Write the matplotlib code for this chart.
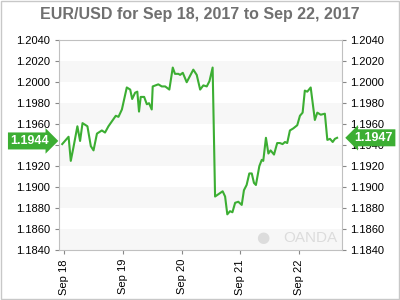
import matplotlib as mpl
mpl.use('Agg')
import matplotlib.pyplot as plt
from matplotlib.patches import Rectangle

# hours since Sep 18 00:00 and EUR/USD price
hours = [-0.8, 1.8, 2.7, 3.8, 5.4, 6.5, 7.5, 9.5, 10.9, 12.0, 13.4, 15.4, 16.7, 18.1,
         21.1, 22.2, 23.6, 25.6, 27.0, 27.8, 29.0, 29.9, 30.6, 31.3, 32.7, 33.8, 34.7,
         35.8, 36.2, 38.5, 39.9, 41.3, 43.0, 44.4, 45.3, 46.7, 47.4, 48.5, 50.1, 52.8,
         54.2, 55.6, 56.9, 58.3, 59.4, 60.7, 61.7, 64.8, 65.8, 66.7, 67.8, 68.8, 69.9,
         71.2, 72.6, 73.5, 74.6, 75.7, 76.7, 77.6, 78.4, 79.8, 80.8, 81.4, 82.5, 83.5,
         84.4, 85.8, 87.1, 88.2, 89.3, 90.3, 91.2, 92.3, 93.7, 95.3, 96.4, 97.5, 98.4,
         99.4, 100.8, 102.5, 103.5, 104.9, 106.6, 107.6, 108.7, 109.8, 110.7, 111.6]
price = [1.1941, 1.1948, 1.1925, 1.1938, 1.1958, 1.1944, 1.1961, 1.1958, 1.1939, 1.1935,
         1.1951, 1.1954, 1.1952, 1.1958, 1.1968, 1.1967, 1.1974, 1.1995, 1.1993, 1.1984,
         1.1990, 1.1991, 1.1972, 1.1986, 1.1986, 1.1979, 1.1980, 1.1974, 1.1996, 1.1998,
         1.1996, 1.1996, 1.1993, 1.2014, 1.2008, 1.2008, 1.2007, 1.2009, 1.2000, 1.2012,
         1.2007, 1.1993, 1.1997, 1.1996, 1.2001, 1.2014, 1.1891, 1.1896, 1.1891, 1.1874,
         1.1877, 1.1876, 1.1885, 1.1886, 1.1883, 1.1897, 1.1902, 1.1913, 1.1913, 1.1904,
         1.1902, 1.1920, 1.1926, 1.1925, 1.1947, 1.1932, 1.1935, 1.1931, 1.1942, 1.1942,
         1.1941, 1.1943, 1.1942, 1.1954, 1.1956, 1.1959, 1.1968, 1.1971, 1.1992, 1.1991,
         1.1995, 1.1964, 1.1971, 1.1969, 1.1970, 1.1945, 1.1946, 1.1943, 1.1946, 1.1947]

day_ticks = [0, 24, 48, 72, 96]
day_labels = ['Sep 18', 'Sep 19', 'Sep 20', 'Sep 21', 'Sep 22']
y_ticks = [1.1840, 1.1860, 1.1880, 1.1900, 1.1920, 1.1940, 1.1960, 1.1980, 1.2000, 1.2020, 1.2040]
open_price = 1.1944
last_price = 1.1947

green = '#3cae33'
plt.rcParams['font.family'] = ['Liberation Sans', 'DejaVu Sans']

fig = plt.figure(figsize=(4, 3), dpi=100)
ax = fig.add_axes([0.147, 0.1667, 0.708, 0.699])

# alternating bands
for i in range(0, len(y_ticks) - 1, 2):
    ax.axhspan(y_ticks[i], y_ticks[i + 1], color='#f7f7f7', lw=0, zorder=0)

ax.plot(hours, price, color=green, lw=1.5, zorder=3)

ax.set_xlim(-2.2, 113.6)
ax.set_ylim(1.1840, 1.2040)
ax.set_yticks(y_ticks)
ax.set_yticklabels(['%.4f' % v for v in y_ticks])
ax.set_xticks(day_ticks)
ax.set_xticklabels(day_labels, rotation=90)
ax.tick_params(axis='both', labelsize=8, colors='#888888', labelcolor='black',
               length=3, direction='out')
ax.tick_params(axis='y', right=True, labelright=True, pad=3)
for s in ax.spines.values():
    s.set_color('#c0c0c0')

fig.suptitle('EUR/USD for Sep 18, 2017 to Sep 22, 2017', x=0.5, y=0.975,
             fontsize=11.5, fontweight='bold', color='#707070')

# watermark
ax.text(0.985, 0.025, 'OANDA', transform=ax.transAxes, ha='right', va='bottom',
        fontsize=11, color='#dcdcdc')
ax.text(0.745, 0.025, '\u25cf', transform=ax.transAxes, ha='right', va='bottom',
        fontsize=11, color='#dcdcdc', family='DejaVu Sans')

# price labels
ax.annotate('%.4f' % open_price, xy=(0, open_price), xycoords=('axes fraction', 'data'),
            xytext=(-7, 0), textcoords='offset points', ha='right', va='center',
            fontsize=9, fontweight='bold', color='white',
            bbox=dict(boxstyle='rarrow,pad=0.2', fc=green, ec='none'), zorder=5,
            annotation_clip=False)
ax.annotate('%.4f' % last_price, xy=(1, last_price), xycoords=('axes fraction', 'data'),
            xytext=(9, 0), textcoords='offset points', ha='left', va='center',
            fontsize=9, fontweight='bold', color='white',
            bbox=dict(boxstyle='larrow,pad=0.2', fc=green, ec='none'), zorder=5,
            annotation_clip=False)

fig.patches.append(Rectangle((0.002, 0.003), 0.995, 0.994, transform=fig.transFigure,
                             fill=False, ec='#c8c8c8', lw=1))

fig.savefig('out.png', dpi=100)
